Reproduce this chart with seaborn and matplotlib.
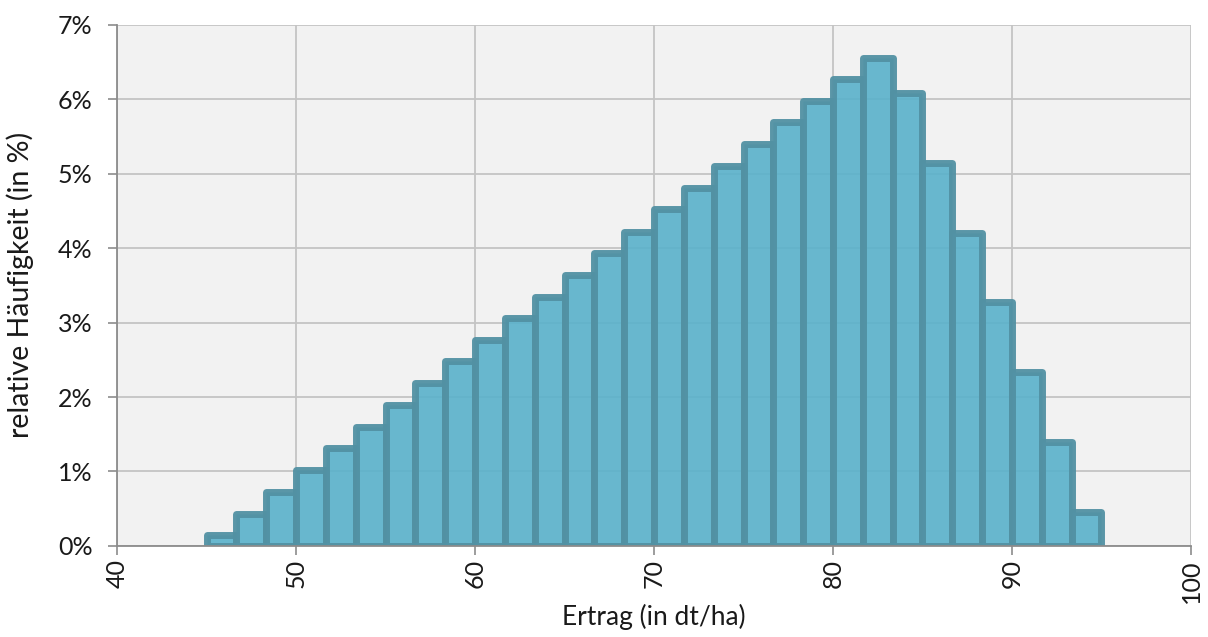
import numpy as np
import pandas as pd
import matplotlib
matplotlib.use("Agg")
import matplotlib.pyplot as plt
import seaborn as sns
from matplotlib.ticker import FuncFormatter

# Data: histogram bin edges (dt/ha) and relative frequency (%) per bin
bin_edges = list(np.linspace(45, 95, 31))
rel_freq = [0.14, 0.43, 0.72, 1.02, 1.31, 1.60, 1.89, 2.19, 2.48, 2.77,
            3.06, 3.35, 3.64, 3.93, 4.22, 4.52, 4.81, 5.10, 5.40, 5.69,
            5.98, 6.27, 6.55, 6.08, 5.15, 4.21, 3.27, 2.34, 1.40, 0.45]
x_ticks = [40, 50, 60, 70, 80, 90, 100]
y_ticks = [0, 1, 2, 3, 4, 5, 6, 7]

centers = [(bin_edges[i] + bin_edges[i + 1]) / 2 for i in range(len(rel_freq))]
df = pd.DataFrame({"Ertrag": centers, "freq": rel_freq})

sns.set_style("whitegrid")
plt.rcParams['font.family'] = ['Lato', 'DejaVu Sans']

fig = plt.figure(figsize=(12.08, 6.37), dpi=100)
ax = fig.add_axes([0.0969, 0.143, 0.889, 0.818])
ax.set_facecolor('#f2f2f2')

sns.histplot(data=df, x="Ertrag", weights="freq", bins=bin_edges, ax=ax,
             stat="count", color='#5cb2cb', alpha=0.92,
             edgecolor='#5192a3', linewidth=5.0)
for p in ax.patches:
    p.set_joinstyle('round')
    p.set_edgecolor((0.32, 0.57, 0.64, 0.95))

ax.set_xlim(40, 100)
ax.set_ylim(0, 7)
ax.set_xticks(x_ticks)
ax.set_yticks(y_ticks)
ax.yaxis.set_major_formatter(FuncFormatter(lambda v, _: f"{int(round(v))}%"))
ax.grid(True, color='#c4c4c4', linewidth=1.3)
ax.set_axisbelow(True)

for s in ['top', 'right']:
    ax.spines[s].set_visible(False)
for s in ['left', 'bottom']:
    ax.spines[s].set_color('#8c8c8c')
    ax.spines[s].set_linewidth(1.3)

ax.tick_params(axis='both', which='major', length=6.5, width=1.2, color='#8c8c8c',
               labelsize=18, labelcolor='#1a1a1a', direction='out')
ax.tick_params(axis='x', labelrotation=90, pad=3)
ax.tick_params(axis='y', pad=11)
ax.tick_params(left=True, bottom=True)

ax.set_xlabel("Ertrag (in dt/ha)", fontsize=19, color='#1a1a1a', labelpad=1)
ax.set_ylabel("relative Häufigkeit (in %)", fontsize=20.5, color='#1a1a1a', labelpad=17)

fig.savefig("out.png", dpi=100)
